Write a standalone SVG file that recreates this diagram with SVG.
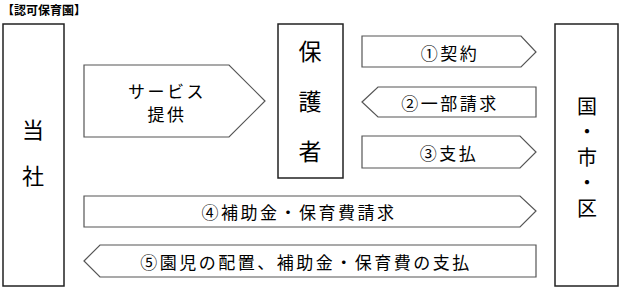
<svg xmlns="http://www.w3.org/2000/svg" width="620" height="288" viewBox="0 0 620 288">
<style>
.box{fill:#fff;stroke:#222;stroke-width:1.5}
.arr{fill:#fff;stroke:#555;stroke-width:1.2}
text{font-family:"Noto Sans CJK JP","Noto Sans",sans-serif;fill:#000;text-anchor:middle;dominant-baseline:central}
.lbl{font-size:17px;letter-spacing:2.5px}
.vt{writing-mode:vertical-rl;text-anchor:middle}
.title{font-size:12px;font-weight:bold;text-anchor:start}
</style>
<rect width="620" height="288" fill="#fff"/>
<text class="title" x="2" y="9">【認可保育園】</text>
<g id="connectors">
<g id="service"><polygon class="arr" points="84,65 229,65 265,101 229,137 84,137"/><text class="lbl" x="167" y="90">サービス</text><text class="lbl" x="167" y="113">提供</text></g>
<g id="c1"><polygon class="arr" points="362,36 521,36 536,52 521,67 362,67"/><text class="lbl" x="450" y="52">①契約</text></g>
<g id="c2"><polygon class="arr" points="362,102 378,87 536,87 536,117 378,117"/><text class="lbl" x="450" y="102">②一部請求</text></g>
<g id="c3"><polygon class="arr" points="362,136 520,136 536,152 520,168 362,168"/><text class="lbl" x="449" y="152">③支払</text></g>
<g id="c4"><polygon class="arr" points="84,196 520,196 536,211 520,227 84,227"/><text class="lbl" x="299" y="211">④補助金・保育費請求</text></g>
<g id="c5"><polygon class="arr" points="84,261 100,245 536,245 536,277 100,277"/><text class="lbl" x="306" y="261">⑤園児の配置、補助金・保育費の支払</text></g>
</g>
<g id="tosha"><rect class="box" x="3" y="24" width="61" height="262"/><text class="vt" x="33" y="165" style="font-size:22px;letter-spacing:24px">当社</text></g>
<g id="hogosha"><rect class="box" x="278" y="24" width="65" height="154"/><text class="vt" x="310" y="115" style="font-size:23px;letter-spacing:27px">保護者</text></g>
<g id="kuni"><rect class="box" x="555" y="24" width="63" height="262"/><text class="vt" x="587" y="160" style="font-size:20px;letter-spacing:5.5px">国・市・区</text></g>
</svg>
